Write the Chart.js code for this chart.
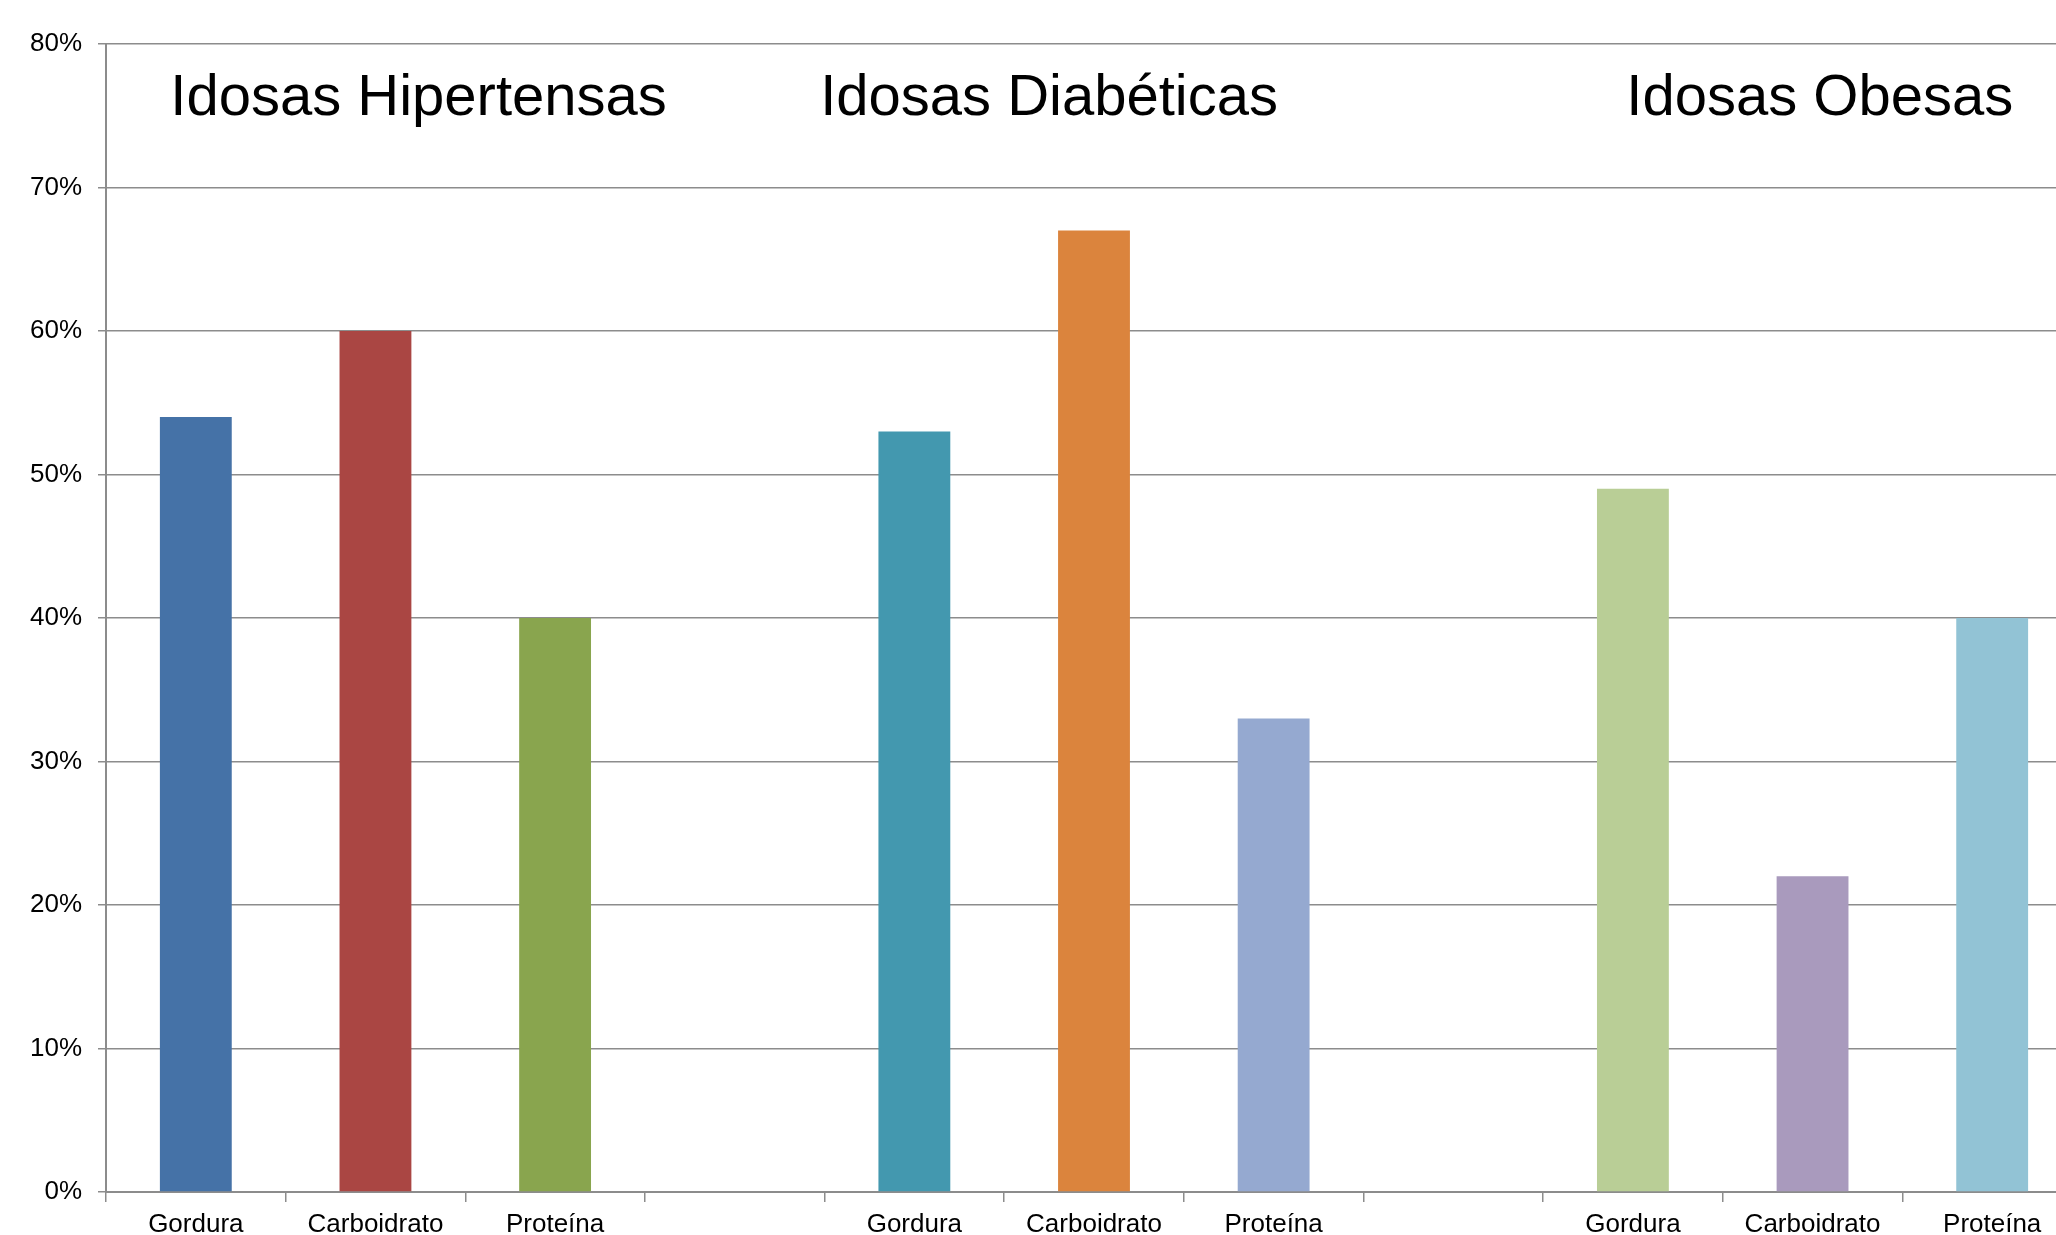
<!DOCTYPE html>
<html>
<head>
<meta charset="utf-8">
<script src="https://cdn.jsdelivr.net/npm/chart.js@4/dist/chart.umd.min.js"></script>
<style>
    html, body {
        margin: 0;
        padding: 0;
        background: #ffffff;
        overflow: hidden;
    }
    canvas {
        display: block;
    }
</style>
</head>
<body>

<canvas id="nutrientChart" width="2082" height="1235"></canvas>

<script>

const categories = [
    "Gordura", "Carboidrato", "Proteína", "",
    "Gordura", "Carboidrato", "Proteína", "",
    "Gordura", "Carboidrato", "Proteína"
];

const percentValues = [
    54, 60, 40, null,
    53, 67, 33, null,
    49, 22, 40
];

const barColors = [
    "#4572A7", "#AA4643", "#89A54E", null,
    "#4398AF", "#DB843D", "#95A9D0", null,
    "#B9CE96", "#A99ABD", "#92C3D5"
];

const groupTitles = [
    "Idosas Hipertensas",
    "Idosas Diabéticas",
    "Idosas Obesas"
];

// where each title is centred, in category units
const groupTitleCenters = [
    1.24, 4.75, 9.04
];

const yTicks = [
    0, 10, 20, 30, 40, 50, 60, 70, 80
];

const FONT =
    "'Liberation Sans', Arial, sans-serif";

const GRID =
    "#8c8c8c";


const groupTitlesPlugin = {

    id: "groupTitles",

    afterDatasetsDraw(chart) {

        const ctx = chart.ctx;
        const x = chart.scales.x;

        ctx.save();
        ctx.fillStyle = "#000000";
        ctx.font = `58px ${FONT}`;
        ctx.textAlign = "center";
        ctx.textBaseline = "alphabetic";

        groupTitles.forEach((title, i) => {
            ctx.fillText(
                title,
                x.getPixelForValue(groupTitleCenters[i]),
                115
            );
        });

        ctx.restore();
    }
};


new Chart(

    document.getElementById(
        "nutrientChart"
    ),

    {
        type: "bar",

        data: {

            labels:
                categories,

            datasets: [

                {
                    data:
                        percentValues,

                    backgroundColor:
                        barColors,

                    borderWidth: 0,

                    categoryPercentage: 1,

                    barPercentage: 0.4
                }
            ]
        },

        options: {

            responsive: false,
            animation: false,

            layout: {
                padding: {
                    top: 44,
                    right: 0,
                    bottom: 0,
                    left: 0
                }
            },

            plugins: {
                legend: { display: false },
                tooltip: { enabled: false }
            },

            scales: {

                x: {

                    afterFit(scale) {
                        scale.height = 43;
                    },

                    grid: {
                        drawOnChartArea: false,
                        drawTicks: true,
                        tickLength: 10,
                        color: GRID,
                        lineWidth: 1.5
                    },

                    border: {
                        color: GRID,
                        width: 2
                    },

                    ticks: {
                        color: "#000000",
                        padding: 7,
                        maxRotation: 0,
                        autoSkip: false,
                        font: {
                            family: FONT,
                            size: 26
                        }
                    }
                },

                y: {

                    min: 0,
                    max: 80,

                    afterFit(scale) {
                        scale.width = 106;
                    },

                    afterBuildTicks(scale) {
                        scale.ticks =
                            yTicks.map(v => ({ value: v }));
                    },

                    grid: {
                        drawTicks: true,
                        tickLength: 8,
                        color: GRID,
                        lineWidth: 1.5
                    },

                    border: {
                        color: GRID,
                        width: 2
                    },

                    ticks: {
                        color: "#000000",
                        padding: 16,
                        font: {
                            family: FONT,
                            size: 26
                        },
                        callback: v => v + "%"
                    }
                }
            }
        },

        plugins: [
            groupTitlesPlugin
        ]
    }
);

</script>
</body>
</html>
